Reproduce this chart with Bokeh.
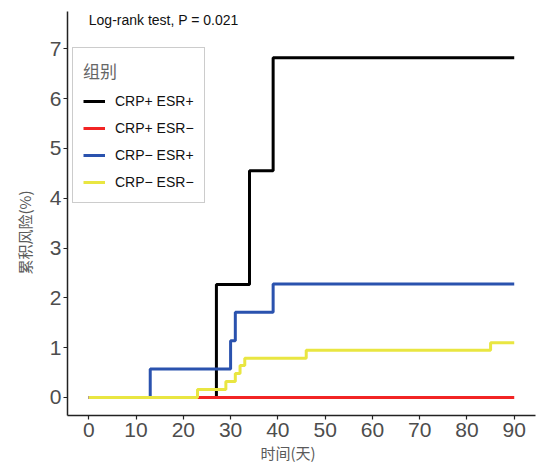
import math
from bokeh.plotting import figure
from bokeh.models import Range1d, Legend, LegendItem, Label, FixedTicker, Title
from bokeh.embed import file_html
from bokeh.resources import INLINE

# data
groups = ["CRP+ ESR+", "CRP+ ESR−", "CRP− ESR+", "CRP− ESR−"]
colors = ["#000000", "#F22424", "#2A52AE", "#E9E641"]
t_black = [0, 27, 34, 39, 90]
v_black = [0, 2.27, 4.55, 6.82, 6.82]
t_red = [0, 90]
v_red = [0, 0]
t_blue = [0, 13, 30, 31, 39, 90]
v_blue = [0, 0.57, 1.14, 1.71, 2.28, 2.28]
t_yellow = [0, 23, 29, 31, 32, 33, 46, 85, 90]
v_yellow = [0, 0.16, 0.32, 0.48, 0.64, 0.79, 0.95, 1.10, 1.10]
x_ticks = [0, 10, 20, 30, 40, 50, 60, 70, 80, 90]
y_ticks = [0, 1, 2, 3, 4, 5, 6, 7]
pval_text = "Log-rank test, P = 0.021"
x_title = "时间(天)"
y_title = "累积风险(%)"

series = [(t_black, v_black), (t_red, v_red), (t_blue, v_blue), (t_yellow, v_yellow)]

p = figure(width=542, height=462, output_backend="svg", toolbar_location=None,
           x_range=Range1d(-4.5, 94.5), y_range=Range1d(-0.362, 7.75))
p.min_border_left = 67
p.min_border_right = 7
p.min_border_top = 11
p.min_border_bottom = 0
p.outline_line_color = None
p.xgrid.grid_line_color = None
p.ygrid.grid_line_color = None
p.background_fill_color = "white"
p.border_fill_color = "white"

for ax, ticks in ((p.xaxis, x_ticks), (p.yaxis, y_ticks)):
    ax.ticker = FixedTicker(ticks=ticks)
    ax.axis_line_color = "#222222"
    ax.axis_line_width = 1.5
    ax.major_tick_line_color = "#222222"
    ax.major_tick_line_width = 1.2
    ax.major_tick_in = 0
    ax.major_tick_out = 4
    ax.minor_tick_line_color = None
    ax.major_label_text_font = "Liberation Sans"
    ax.major_label_text_font_size = "21px"
    ax.major_label_text_color = "#4D4D4D"
p.yaxis.major_label_standoff = 2
p.xaxis.major_label_standoff = 3

renderers = []
for (t, v), c in zip(series, colors):
    r = p.step(t, v, mode="after", line_color=c, line_width=3)
    renderers.append(r)

items = [LegendItem(label=g, renderers=[r]) for g, r in zip(groups, renderers)]
legend = Legend(items=items, location=(5, 212), title="组别",
                title_text_font="Noto Sans CJK SC", title_text_font_size="17px",
                title_text_color="#666666", title_text_font_style="normal",
                title_standoff=8,
                label_text_font="Liberation Sans", label_text_font_size="14px",
                label_text_color="#111111",
                glyph_width=22, glyph_height=20, label_height=20, spacing=7,
                label_standoff=10, padding=10, margin=0,
                border_line_color="#999999", border_line_width=1,
                background_fill_alpha=1.0)
p.add_layout(legend, "center")

p.add_layout(Label(x=0, y=7.57, text=pval_text, text_font="Liberation Sans",
                   text_font_size="14px", text_color="#111111",
                   text_align="left", text_baseline="middle"))

# axis titles
yt = Title(text=y_title, align="left", offset=141, text_font="Noto Sans CJK SC",
           text_font_size="15px", text_color="#5A5A5A", text_font_style="normal",
           standoff=23, text_line_height=1.0)
p.add_layout(yt, "left")
xt = Title(text=x_title, align="left", offset=193, text_font="Noto Sans CJK SC",
           text_font_size="15px", text_color="#5A5A5A", text_font_style="normal",
           standoff=0, text_line_height=1.0)
p.add_layout(xt, "below")

open("out.html", "w").write(file_html(p, INLINE))
